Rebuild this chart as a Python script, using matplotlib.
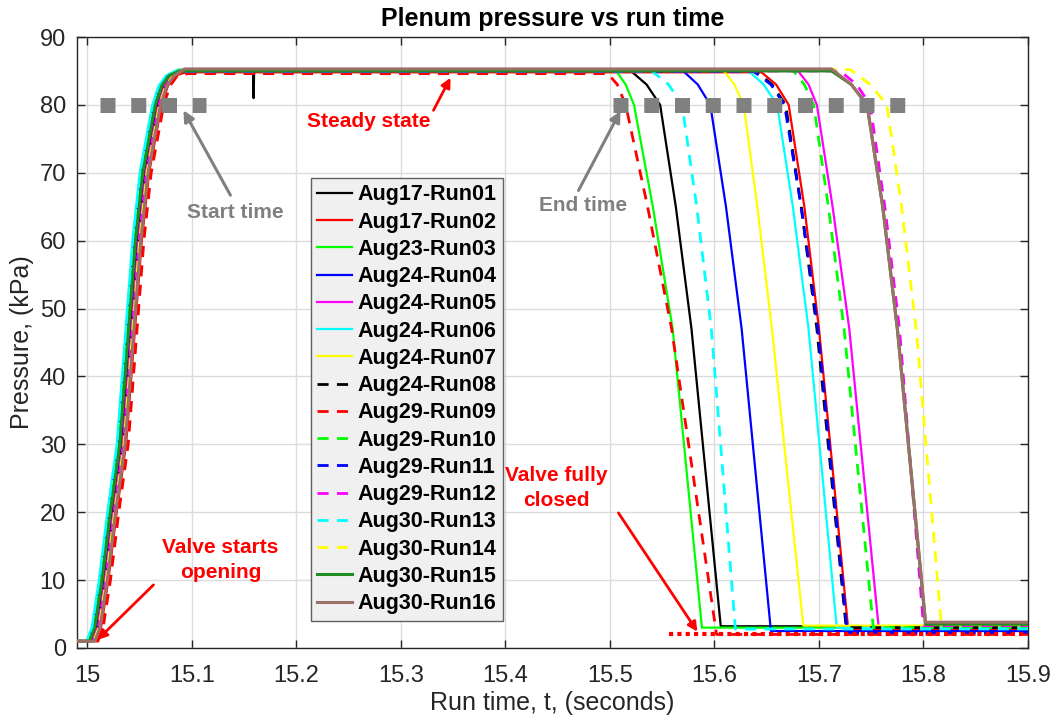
import numpy as np
import matplotlib
matplotlib.use("Agg")
import matplotlib.pyplot as plt

plt.rcParams['font.family'] = ['Liberation Sans', 'DejaVu Sans']

# ---------------- data ----------------
RUN_NAMES = ["Aug17-Run01", "Aug17-Run02", "Aug23-Run03", "Aug24-Run04",
             "Aug24-Run05", "Aug24-Run06", "Aug24-Run07", "Aug24-Run08",
             "Aug29-Run09", "Aug29-Run10", "Aug29-Run11", "Aug29-Run12",
             "Aug30-Run13", "Aug30-Run14", "Aug30-Run15", "Aug30-Run16"]
COLORS = ["#000000", "#ff0000", "#00ff00", "#0000ff", "#ff00ff", "#00ffff",
          "#ffff00", "#000000", "#ff0000", "#00ff00", "#0000ff", "#ff00ff",
          "#00ffff", "#ffff00", "#228b22", "#9c7068"]
DASHED = [False] * 7 + [True] * 7 + [False, False]

# valve opening (rise) profile, common shape + per-run time offset
T_START = 14.99
T_RISE_REF = [15.004, 15.009, 15.016, 15.024, 15.033, 15.038, 15.043,
              15.048, 15.055, 15.067, 15.073, 15.080, 15.090]
P_RISE = [1.0, 3.0, 10.0, 20.0, 30.0, 40.0, 50.0, 60.0, 70.0, 80.0, 82.8, 84.3]
RISE_SHIFT = [0.000, 0.004, -0.003, -0.002, 0.001, -0.005, 0.003, 0.000,
              0.006, 0.002, -0.003, 0.001, -0.004, 0.002, -0.002, 0.003]
P_PLATEAU = [85.0, 84.8, 85.2, 85.0, 85.0, 85.1, 85.2, 84.9,
             84.6, 85.1, 84.9, 85.0, 85.0, 85.2, 85.0, 85.3]

# valve closing (fall) key points per run
T_KNEE = [15.520, 15.645, 15.505, 15.570, 15.680, 15.632, 15.608, 15.640,
          15.498, 15.675, 15.638, 15.720, 15.540, 15.730, 15.712, 15.712]
T_83 = [15.535, 15.659, 15.515, 15.584, 15.690, 15.647, 15.619, 15.655,
        15.507, 15.686, 15.654, 15.736, 15.556, 15.749, 15.731, 15.731]
T_80 = [15.548, 15.671, 15.523, 15.596, 15.698, 15.660, 15.628, 15.668,
        15.515, 15.695, 15.667, 15.749, 15.569, 15.765, 15.746, 15.746]
T_65 = [15.563, 15.686, 15.541, 15.611, 15.713, 15.675, 15.641, 15.683,
        15.536, 15.709, 15.683, 15.763, 15.583, 15.779, 15.761, 15.761]
T_47 = [15.578, 15.700, 15.560, 15.626, 15.729, 15.690, 15.655, 15.698,
        15.559, 15.724, 15.699, 15.777, 15.597, 15.793, 15.775, 15.775]
T_BOT = [15.606, 15.728, 15.588, 15.654, 15.757, 15.717, 15.685, 15.726,
         15.602, 15.752, 15.727, 15.800, 15.620, 15.817, 15.802, 15.802]
P_BOT = [3.2, 2.7, 3.0, 2.5, 3.2, 3.0, 3.3, 3.0,
         2.0, 3.0, 2.3, 3.3, 2.8, 3.5, 3.5, 3.8]
T_END = 15.9

# glitch in Run01 plateau
GLITCH_T = [15.1585, 15.1590, 15.1595]
GLITCH_P = [85.0, 81.0, 85.0]

# annotation markers
START_MARK_T = [15.012, 15.1135]
END_MARK_T = [15.503, 15.783]
MARK_P = 80.0
CLOSED_T = [15.556, 15.9]
CLOSED_P = 2.1

# ---------------- figure ----------------
fig = plt.figure(figsize=(10.55, 7.17), dpi=100)
ax = fig.add_axes([77 / 1055, 69 / 717, 951 / 1055, 611 / 717])

for i, name in enumerate(RUN_NAMES):
    t = [T_START] + [v + RISE_SHIFT[i] for v in T_RISE_REF]
    p = [P_RISE[0]] + P_RISE + [P_PLATEAU[i]]
    if i == 0:
        t += GLITCH_T
        p += GLITCH_P
    t += [T_KNEE[i], T_83[i], T_80[i], T_65[i], T_47[i], T_BOT[i], T_END]
    p += [P_PLATEAU[i], 83.0, 80.0, 65.0, 47.0, P_BOT[i], P_BOT[i]]
    if DASHED[i]:
        ax.plot(t, p, color=COLORS[i], lw=2.0, linestyle=(0, (4, 3)),
                label=name, zorder=3)
    else:
        lw = 2.2 if i >= 14 else 1.6
        ax.plot(t, p, color=COLORS[i], lw=lw, label=name, zorder=3)

# gray square markers for start / end time
ax.plot(START_MARK_T, [MARK_P, MARK_P], color="#808080", lw=10.8,
        linestyle=(0, (1, 1.05)), dash_capstyle='butt', zorder=5)
ax.plot(END_MARK_T, [MARK_P, MARK_P], color="#808080", lw=10.8,
        linestyle=(0, (1, 1.05)), dash_capstyle='butt', zorder=5)
# red dotted line valve closed
ax.plot(CLOSED_T, [CLOSED_P, CLOSED_P], color="#ff0000", lw=3.0,
        linestyle=(0, (1, 1)), dash_capstyle='butt', zorder=4)

# annotations
gray = "#808080"
red = "#ff0000"
afs = 15
ax.text(15.1416, 64.1, "Start time", color=gray, fontsize=afs,
        fontweight='bold', ha='center', va='center')
ax.annotate("", xy=(15.0919, 79.2), xytext=(15.1368, 66.7),
            arrowprops=dict(arrowstyle='-|>', color=gray, lw=2.2,
                            mutation_scale=16, shrinkA=0, shrinkB=0), zorder=6)
ax.text(15.4746, 65.2, "End time", color=gray, fontsize=afs,
        fontweight='bold', ha='center', va='center')
ax.annotate("", xy=(15.5100, 79.1), xytext=(15.4699, 67.4),
            arrowprops=dict(arrowstyle='-|>', color=gray, lw=2.2,
                            mutation_scale=16, shrinkA=0, shrinkB=0), zorder=6)
ax.text(15.2689, 77.6, "Steady state", color=red, fontsize=afs,
        fontweight='bold', ha='center', va='center')
ax.annotate("", xy=(15.3474, 84.0), xytext=(15.3311, 79.2),
            arrowprops=dict(arrowstyle='-|>', color=red, lw=2.0,
                            mutation_scale=14, shrinkA=0, shrinkB=0), zorder=6)
ax.text(15.1273, 13.0, "Valve starts\nopening", color=red, fontsize=afs,
        fontweight='bold', ha='center', va='center', linespacing=1.4)
ax.annotate("", xy=(15.0096, 1.2), xytext=(15.0632, 9.3),
            arrowprops=dict(arrowstyle='-|>', color=red, lw=2.0,
                            mutation_scale=14, shrinkA=0, shrinkB=0), zorder=6)
ax.text(15.4488, 23.6, "Valve fully\nclosed", color=red, fontsize=afs,
        fontweight='bold', ha='center', va='center', linespacing=1.4)
ax.annotate("", xy=(15.5837, 2.4), xytext=(15.5081, 19.9),
            arrowprops=dict(arrowstyle='-|>', color=red, lw=2.0,
                            mutation_scale=14, shrinkA=0, shrinkB=0), zorder=6)

# axes styling
ax.set_xlim(14.99, 15.9)
ax.set_ylim(0, 90)
ax.set_xticks(np.arange(15.0, 15.91, 0.1))
ax.set_xticklabels(["15", "15.1", "15.2", "15.3", "15.4", "15.5", "15.6",
                    "15.7", "15.8", "15.9"])
ax.set_yticks(np.arange(0, 91, 10))
ax.grid(True, color="#dcdcdc", lw=1.0)
ax.set_axisbelow(True)
for s in ax.spines.values():
    s.set_color("#262626")
    s.set_linewidth(1.0)
ax.tick_params(direction='in', length=6, width=1.0, colors="#262626",
               labelsize=17, top=True, right=True)
ax.tick_params(axis='x', pad=12)
ax.tick_params(axis='y', pad=8)
ax.set_xlabel("Run time, t, (seconds)", fontsize=18, color="#262626", labelpad=3)
ax.set_ylabel("Pressure, (kPa)", fontsize=18, color="#262626", labelpad=4)
ax.set_title("Plenum pressure vs run time", fontsize=18, fontweight='bold',
             pad=8)

leg = ax.legend(loc='upper left', bbox_to_anchor=((311 - 77) / 951, (648 - 178) / 611),
                borderaxespad=0, prop={'weight': 'bold', 'size': 15.5},
                handlelength=1.6, handletextpad=0.25, borderpad=0.3,
                labelspacing=0.29, frameon=True, fancybox=False,
                edgecolor="#606060", facecolor="#f0f0f0", framealpha=1.0)
leg.get_frame().set_linewidth(1.0)
leg.set_zorder(7)

fig.savefig("out.png", dpi=100)
